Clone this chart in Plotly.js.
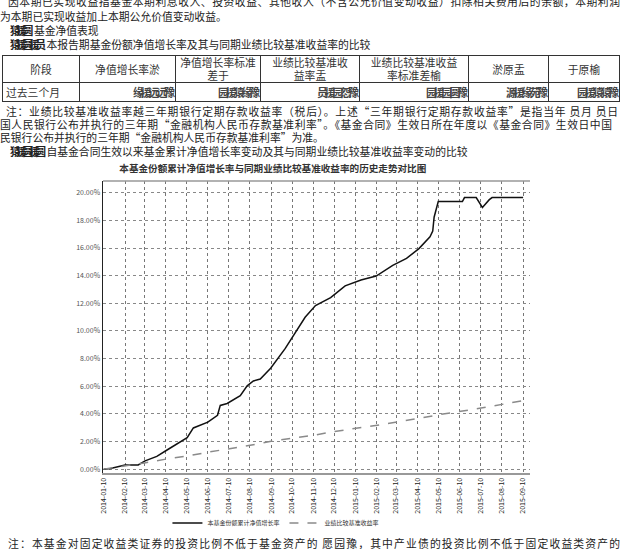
<!DOCTYPE html>
<html>
<head>
<meta charset="utf-8">
<script src="https://cdn.plot.ly/plotly-3.0.1.min.js"></script>
<style>
  html, body { margin:0; padding:0; background:#fff; }
  body { width:620px; height:549px; position:relative; overflow:hidden;
         font-family:"Noto Sans CJK SC","Noto Sans",sans-serif; color:#222; }
  .ln { position:absolute; left:0; white-space:nowrap; font-size:10.8px; line-height:14px; }
  .full { width:612px; text-align:justify; text-align-last:justify; overflow:hidden; }
  .g { font-weight:bold; letter-spacing:-4.5px; margin-right:5px; }
  table { position:absolute; left:2px; top:55px; border-collapse:collapse; font-size:10.8px; color:#333; }
  td { border:1px solid #333; text-align:center; padding:0; line-height:13px; }
  td.v { text-align:right; padding-right:3px; font-weight:bold; letter-spacing:-3px; color:#444; }
  td.l { text-align:left; padding-left:3px; }
  #chart { position:absolute; left:0; top:150px; width:620px; height:399px; }
</style>
</head>
<body>
<div class="ln full" style="top:-6px;left:8px;">因本期已实现收益指基金本期利息收入、投资收益、其他收入（不含公允价值变动收益）扣除相关费用后的余额，本期利润</div>
<div class="ln" style="top:9px;">为本期已实现收益加上本期公允价值变动收益。</div>
<div class="ln" style="top:23px;left:10px;"><span class="g">猿援圆</span>基金净值表现</div>
<div class="ln" style="top:37px;left:10px;"><span class="g">猿援圆援员</span>本报告期基金份额净值增长率及其与同期业绩比较基准收益率的比较</div>

<table>
  <tr style="height:27px;">
    <td style="width:76px;">阶段</td>
    <td style="width:95px;">净值增长率淤</td>
    <td style="width:84px;">净值增长率标准<br>差于</td>
    <td style="width:98px;">业绩比较基准收<br>益率盂</td>
    <td style="width:108px;">业绩比较基准收益<br>率标准差榆</td>
    <td style="width:79px;">淤原盂</td>
    <td style="width:70px;">于原榆</td>
  </tr>
  <tr style="height:19px;">
    <td class="l">过去三个月</td>
    <td class="v">缘援远远豫</td>
    <td class="v">园援猿缘豫</td>
    <td class="v">员援园怨豫</td>
    <td class="v">园援园圆豫</td>
    <td class="v">源援缘苑豫</td>
    <td class="v">园援猿猿豫</td>
  </tr>
</table>

<div class="ln full" style="top:104px;left:6px;">注：业绩比较基准收益率越三年期银行定期存款收益率（税后）。上述“三年期银行定期存款收益率”是指当年 员月 员日</div>
<div class="ln full" style="top:117px;">国人民银行公布并执行的三年期“金融机构人民币存款基准利率”。《基金合同》生效日所在年度以《基金合同》生效日中国</div>
<div class="ln" style="top:130px;">民银行公布并执行的三年期“金融机构人民币存款基准利率”为准。</div>
<div class="ln" style="top:144px;left:10px;"><span class="g">猿援圆援圆</span>自基金合同生效以来基金累计净值增长率变动及其与同期业绩比较基准收益率变动的比较</div>

<div id="chart"></div>

<div class="ln full" style="top:536px;left:8px;">注：本基金对固定收益类证券的投资比例不低于基金资产的 愿园豫，其中产业债的投资比例不低于固定收益类资产的</div>

<script>
// ---- data ----
var tickDates = ["2014-01-10","2014-02-10","2014-03-10","2014-04-10","2014-05-10","2014-06-10","2014-07-10",
  "2014-08-10","2014-09-10","2014-10-10","2014-11-10","2014-12-10","2015-01-10","2015-02-10","2015-03-10",
  "2015-04-10","2015-05-10","2015-06-10","2015-07-10","2015-08-10","2015-09-10"];

var fundDates = ["2014-01-10","2014-01-20","2014-02-10","2014-03-01","2014-03-11","2014-03-28","2014-04-13",
  "2014-04-24","2014-05-11","2014-05-20","2014-05-30","2014-06-10","2014-06-24","2014-06-28","2014-07-08",
  "2014-07-27","2014-08-06","2014-08-15","2014-08-25","2014-09-09","2014-09-30","2014-10-15","2014-10-29",
  "2014-11-13","2014-12-05","2014-12-26","2015-01-18","2015-02-09","2015-02-16","2015-03-05","2015-03-25",
  "2015-04-12","2015-04-28","2015-05-02","2015-05-04","2015-05-08","2015-05-10","2015-06-14","2015-06-17",
  "2015-07-04","2015-07-13","2015-07-23","2015-07-27","2015-09-10"];
var fundValues = [0.00,0.05,0.30,0.30,0.60,0.92,1.42,1.77,2.27,2.98,3.19,3.40,3.90,4.61,4.75,5.32,6.03,6.38,
  6.52,7.30,8.72,9.93,10.99,11.84,12.41,13.26,13.69,13.97,14.18,14.75,15.25,15.96,16.81,17.23,18.23,19.01,
  19.36,19.36,19.65,19.65,18.94,19.50,19.65,19.65];

var benchDates = ["2014-01-10","2014-02-10","2014-03-10","2014-04-13","2014-05-11","2014-06-10","2014-07-12",
  "2014-08-21","2014-09-13","2014-10-12","2014-11-10","2014-12-10","2015-01-13","2015-02-16","2015-04-13",
  "2015-05-12","2015-07-09","2015-09-15"];
var benchValues = [0.00,0.21,0.45,0.75,0.95,1.22,1.48,1.82,2.05,2.25,2.45,2.72,2.95,3.22,3.68,3.95,4.40,5.00];

var yTicks = [0,2,4,6,8,10,12,14,16,18,20];
var yTickText = ["0.00%","2.00%","4.00%","6.00%","8.00%","10.00%","12.00%","14.00%","16.00%","18.00%","20.00%"];

var seriesNames = ["本基金份额累计净值增长率","业绩比较基准收益率"];
var chartTitle = "本基金份额累计净值增长率与同期业绩比较基准收益率的历史走势对比图";

var traces = [
  { x: fundDates, y: fundValues, name: seriesNames[0], type: "scatter", mode: "lines",
    line: { color: "#111", width: 1.5 } },
  { x: benchDates, y: benchValues, name: seriesNames[1], type: "scatter", mode: "lines",
    line: { color: "#8a8a8a", width: 1.5, dash: "dash" } }
];

var layout = {
  width: 620, height: 399,
  margin: { l: 103, r: 90, t: 31, b: 70 },
  paper_bgcolor: "rgba(0,0,0,0)", plot_bgcolor: "#fff",
  font: { family: "Noto Sans CJK SC, Noto Sans, sans-serif", color: "#444", size: 7 },
  title: { text: "<b>" + chartTitle + "</b>", x: 0.44, xref: "container", xanchor: "center",
           y: 0.953, yref: "container", yanchor: "middle",
           font: { size: 9.6, color: "#333", family: "Noto Sans CJK SC, sans-serif" } },
  showlegend: true,
  legend: { orientation: "h", x: 0.405, xanchor: "center", y: -0.171, yanchor: "middle",
            font: { size: 6, color: "#333" }, bgcolor: "rgba(0,0,0,0)", itemwidth: 30,
            tracegroupgap: 0 },
  xaxis: {
    type: "date", range: ["2014-01-09", "2015-09-20"],
    tickvals: tickDates, ticktext: tickDates, tickangle: -90,
    tickfont: { size: 7, color: "#222" },
    showgrid: true, gridcolor: "#777", griddash: "dot", gridwidth: 1,
    showline: true, linecolor: "#999", linewidth: 2,
    ticks: "", zeroline: false, fixedrange: true
  },
  yaxis: {
    range: [-0.28, 20.85], tickvals: yTicks, ticktext: yTickText,
    tickfont: { size: 7, color: "#555" },
    showgrid: true, gridcolor: "#888", griddash: "dot", gridwidth: 1,
    showline: true, linecolor: "#222", linewidth: 1.5,
    ticks: "", zeroline: false, fixedrange: true
  },
  shapes: [
    { type: "line", xref: "paper", yref: "paper", x0: 0, x1: 1, y0: 1, y1: 1,
      line: { color: "#999", width: 1.5 } }
  ]
};

Plotly.newPlot("chart", traces, layout, { displayModeBar: false, staticPlot: true });
</script>
</body>
</html>
